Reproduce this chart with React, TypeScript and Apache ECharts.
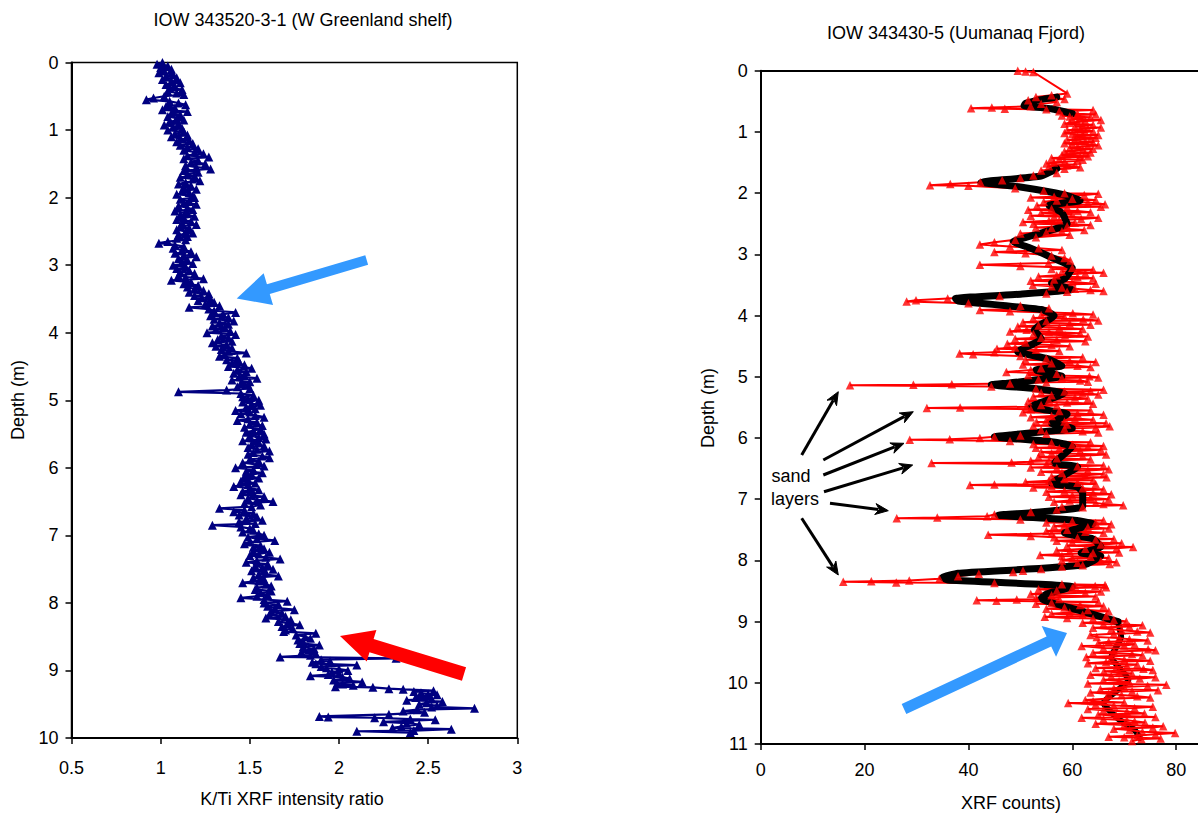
import React, { useEffect, useRef } from "react";
import * as echarts from "echarts";

// ---- Left core: IOW 343520-3-1 (W Greenland shelf) ---- [depth m, K/Ti ratio]
const leftCore: [number, number][] = [
  [0.000,1.01],[0.025,0.98],[0.050,1.04],[0.075,1.00],[0.100,1.06],[0.125,1.02],[0.150,0.99],[0.175,1.07],
  [0.200,1.03],[0.225,1.09],[0.250,1.01],[0.275,1.06],[0.300,1.11],[0.325,1.03],[0.350,1.08],[0.375,1.05],
  [0.400,1.12],[0.425,1.04],[0.450,1.09],[0.475,1.13],[0.500,1.02],[0.525,0.96],[0.550,0.92],[0.575,1.05],
  [0.600,1.10],[0.625,1.14],[0.650,1.03],[0.675,1.08],[0.700,1.01],[0.725,1.15],[0.750,1.06],[0.775,1.11],
  [0.800,1.04],[0.825,1.09],[0.850,1.13],[0.875,1.05],[0.900,1.10],[0.925,1.02],[0.950,1.07],[0.975,1.12],
  [1.000,1.04],[1.025,1.13],[1.050,1.08],[1.075,1.15],[1.100,1.06],[1.125,1.11],[1.150,1.16],[1.175,1.09],
  [1.200,1.18],[1.225,1.11],[1.250,1.15],[1.275,1.21],[1.300,1.13],[1.325,1.19],[1.350,1.24],[1.375,1.15],
  [1.400,1.27],[1.425,1.13],[1.450,1.21],[1.475,1.17],[1.500,1.25],[1.525,1.14],[1.550,1.20],[1.575,1.28],
  [1.600,1.13],[1.625,1.21],[1.650,1.15],[1.675,1.19],[1.700,1.11],[1.725,1.18],[1.750,1.22],[1.775,1.14],
  [1.800,1.10],[1.825,1.17],[1.850,1.13],[1.875,1.20],[1.900,1.12],[1.925,1.16],[1.950,1.09],[1.975,1.18],
  [2.000,1.19],[2.025,1.11],[2.050,1.16],[2.075,1.13],[2.100,1.20],[2.125,1.10],[2.150,1.15],[2.175,1.18],
  [2.200,1.08],[2.225,1.15],[2.250,1.11],[2.275,1.19],[2.300,1.13],[2.325,1.09],[2.350,1.17],[2.375,1.12],
  [2.400,1.20],[2.425,1.11],[2.450,1.16],[2.475,1.09],[2.500,1.14],[2.525,1.18],[2.550,1.10],[2.575,1.15],
  [2.600,1.09],[2.625,1.14],[2.650,1.04],[2.675,0.99],[2.700,1.08],[2.725,1.13],[2.750,1.07],[2.775,1.12],
  [2.800,1.17],[2.825,1.08],[2.850,1.13],[2.875,1.20],[2.900,1.10],[2.925,1.15],[2.950,1.12],[2.975,1.18],
  [3.000,1.07],[3.025,1.14],[3.050,1.09],[3.075,1.16],[3.100,1.11],[3.125,1.19],[3.150,1.10],[3.175,1.14],
  [3.200,1.24],[3.225,1.06],[3.250,1.17],[3.275,1.13],[3.300,1.21],[3.325,1.15],[3.350,1.19],[3.375,1.24],
  [3.400,1.16],[3.425,1.27],[3.450,1.19],[3.475,1.23],[3.500,1.28],[3.525,1.21],[3.550,1.30],[3.575,1.25],
  [3.600,1.33],[3.625,1.16],[3.650,1.27],[3.675,1.30],[3.700,1.42],[3.725,1.35],[3.750,1.28],[3.775,1.38],
  [3.800,1.30],[3.825,1.41],[3.850,1.33],[3.875,1.38],[3.900,1.29],[3.925,1.36],[3.950,1.31],[3.975,1.39],
  [4.000,1.26],[4.025,1.42],[4.050,1.34],[4.075,1.38],[4.100,1.32],[4.125,1.40],[4.150,1.29],[4.175,1.37],
  [4.200,1.31],[4.225,1.40],[4.250,1.34],[4.275,1.38],[4.300,1.48],[4.325,1.36],[4.350,1.33],[4.375,1.43],
  [4.400,1.37],[4.425,1.44],[4.450,1.40],[4.475,1.47],[4.500,1.38],[4.525,1.51],[4.550,1.43],[4.575,1.48],
  [4.600,1.41],[4.625,1.47],[4.650,1.44],[4.675,1.54],[4.700,1.40],[4.725,1.50],[4.750,1.45],[4.775,1.49],
  [4.800,1.43],[4.825,1.50],[4.850,1.37],[4.875,1.10],[4.900,1.45],[4.925,1.52],[4.950,1.46],[4.975,1.49],
  [5.000,1.55],[5.025,1.46],[5.050,1.51],[5.075,1.56],[5.100,1.48],[5.125,1.53],[5.150,1.42],[5.175,1.50],
  [5.200,1.45],[5.225,1.53],[5.250,1.58],[5.275,1.49],[5.300,1.43],[5.325,1.54],[5.350,1.50],[5.375,1.57],
  [5.400,1.47],[5.425,1.56],[5.450,1.52],[5.475,1.48],[5.500,1.58],[5.525,1.50],[5.550,1.55],[5.575,1.59],
  [5.600,1.46],[5.625,1.55],[5.650,1.51],[5.675,1.58],[5.700,1.49],[5.725,1.54],[5.750,1.61],[5.775,1.52],
  [5.800,1.49],[5.825,1.57],[5.850,1.61],[5.875,1.50],[5.900,1.55],[5.925,1.46],[5.950,1.54],[5.975,1.58],
  [6.000,1.42],[6.025,1.52],[6.050,1.48],[6.075,1.57],[6.100,1.51],[6.125,1.47],[6.150,1.55],[6.175,1.49],
  [6.200,1.45],[6.225,1.53],[6.250,1.49],[6.275,1.41],[6.300,1.50],[6.325,1.55],[6.350,1.46],[6.375,1.52],
  [6.400,1.45],[6.425,1.58],[6.450,1.49],[6.475,1.54],[6.500,1.63],[6.525,1.47],[6.550,1.56],[6.575,1.51],
  [6.600,1.33],[6.625,1.47],[6.650,1.41],[6.675,1.52],[6.700,1.44],[6.725,1.54],[6.750,1.48],[6.775,1.57],
  [6.800,1.44],[6.825,1.53],[6.850,1.29],[6.875,1.45],[6.900,1.50],[6.925,1.52],[6.950,1.46],[6.975,1.55],
  [7.000,1.58],[7.025,1.49],[7.050,1.54],[7.075,1.64],[7.100,1.50],[7.125,1.47],[7.150,1.56],[7.175,1.52],
  [7.200,1.58],[7.225,1.52],[7.250,1.61],[7.275,1.55],[7.300,1.50],[7.325,1.59],[7.350,1.67],[7.375,1.54],
  [7.400,1.48],[7.425,1.60],[7.450,1.53],[7.475,1.57],[7.500,1.63],[7.525,1.51],[7.550,1.59],[7.575,1.55],
  [7.600,1.66],[7.625,1.52],[7.650,1.58],[7.675,1.55],[7.700,1.46],[7.725,1.59],[7.750,1.62],[7.775,1.54],
  [7.800,1.53],[7.825,1.62],[7.850,1.56],[7.875,1.60],[7.900,1.54],[7.925,1.45],[7.950,1.58],[7.975,1.71],
  [8.000,1.58],[8.025,1.66],[8.050,1.60],[8.075,1.64],[8.100,1.75],[8.125,1.62],[8.150,1.68],[8.175,1.61],
  [8.200,1.70],[8.225,1.59],[8.250,1.73],[8.275,1.66],[8.300,1.71],[8.325,1.78],[8.350,1.68],[8.375,1.74],
  [8.400,1.70],[8.425,1.69],[8.450,1.87],[8.475,1.76],[8.500,1.81],[8.525,1.84],[8.550,1.77],[8.575,1.80],
  [8.600,1.78],[8.625,1.89],[8.650,1.80],[8.675,1.86],[8.700,1.83],[8.725,1.79],[8.750,1.87],[8.775,1.84],
  [8.80,1.67],[8.82,2.32],[8.84,1.90],[8.86,1.95],[8.88,1.85],[8.90,1.87],[8.92,2.10],[8.94,1.90],[8.96,1.93],[8.98,2.00],
  [9.00,2.05],[9.02,1.96],[9.04,2.00],[9.06,1.94],[9.08,1.84],[9.10,2.02],[9.12,2.06],[9.14,1.97],[9.17,2.13],[9.19,1.99],
  [9.20,2.02],[9.22,2.08],[9.24,1.98],[9.25,2.19],[9.27,2.28],[9.28,2.36],[9.30,2.53],[9.31,2.42],[9.33,2.46],[9.35,2.50],
  [9.36,2.55],[9.38,2.47],[9.40,2.43],[9.42,2.52],[9.44,2.38],[9.46,2.58],[9.48,2.49],[9.50,2.45],[9.52,2.55],[9.54,2.52],
  [9.56,2.76],[9.58,2.44],[9.60,2.36],[9.62,2.48],[9.65,2.28],[9.68,1.89],[9.69,1.94],[9.70,2.20],[9.72,2.40],[9.73,2.54],
  [9.76,2.25],[9.78,2.38],[9.80,2.45],[9.83,2.35],[9.85,2.30],[9.87,2.63],[9.89,2.42],[9.90,2.10],[9.92,2.40],
];

// ---- Right core: IOW 343430-5 (Uumanaq Fjord) ---- [depth m, XRF counts]
const rightCore: [number, number][] = [
  [0.00,49.5],[0.01,51.0],[0.02,52.5],[0.37,59.0],[0.40,56.0],[0.43,53.0],[0.46,58.5],[0.48,51.5],[0.51,57.0],[0.54,54.0],
  [0.58,52.0],[0.60,44.5],[0.61,40.5],[0.62,47.0],[0.63,55.0],[0.64,64.0],[0.66,57.5],[0.70,61.0],[0.73,58.0],[0.76,63.5],
  [0.79,60.0],[0.82,62.5],[0.85,59.5],[0.88,64.0],[0.91,60.5],[0.94,63.0],[0.97,59.0],[1.00,62.5],[1.03,60.0],[1.05,65.0],
  [1.08,61.0],[1.11,63.5],[1.14,60.5],[1.17,64.0],[1.20,60.0],[1.23,63.0],[1.26,59.5],[1.29,62.0],[1.32,58.5],[1.35,62.5],
  [1.38,58.0],[1.41,61.5],[1.44,57.5],[1.47,61.0],[1.50,56.5],[1.53,60.5],[1.56,55.5],[1.60,58.5],[1.63,54.0],[1.67,57.0],
  [1.71,52.5],[1.75,50.0],[1.79,46.5],[1.82,42.3],[1.85,36.5],[1.87,32.6],[1.88,40.0],[1.92,49.0],[1.96,54.5],[2.00,58.5],
  [2.03,62.3],[2.06,56.5],[2.09,60.0],[2.12,57.0],[2.15,63.0],[2.18,66.3],[2.20,53.2],[2.23,59.0],[2.26,56.0],[2.29,61.0],
  [2.32,54.0],[2.35,60.0],[2.38,56.5],[2.42,61.7],[2.45,55.5],[2.48,60.5],[2.50,52.5],[2.54,59.0],[2.57,56.0],[2.60,62.3],
  [2.64,55.0],[2.68,59.5],[2.72,53.0],[2.76,49.0],[2.80,45.0],[2.84,42.2],[2.87,48.0],[2.90,53.5],[2.93,58.0],[2.96,45.0],
  [2.98,51.0],[3.02,56.0],[3.06,58.5],[3.10,59.6],[3.14,55.4],[3.17,42.2],[3.19,50.0],[3.22,60.0],[3.25,64.0],[3.28,58.0],
  [3.31,62.5],[3.34,57.0],[3.37,61.0],[3.41,56.5],[3.45,60.0],[3.50,52.4],[3.54,58.0],[3.58,63.5],[3.61,59.0],[3.64,55.0],
  [3.68,46.0],[3.72,36.0],[3.75,29.9],[3.77,28.1],[3.80,40.0],[3.84,50.0],[3.88,55.5],[3.91,42.2],[3.93,48.0],[3.96,60.1],
  [3.99,54.0],[4.02,58.5],[4.06,62.1],[4.09,55.0],[4.13,59.5],[4.16,53.5],[4.20,57.5],[4.23,51.2],[4.27,55.5],[4.30,52.5],
  [4.32,58.6],[4.36,54.0],[4.40,57.0],[4.44,51.0],[4.48,56.0],[4.52,49.0],[4.56,53.0],[4.60,45.0],[4.62,38.3],[4.63,40.9],
  [4.66,50.0],[4.70,55.0],[4.74,59.5],[4.78,56.0],[4.82,61.0],[4.86,54.0],[4.89,52.0],[4.92,47.3],[4.95,57.0],[4.99,63.3],
  [5.02,58.0],[5.06,61.5],[5.09,55.0],[5.11,48.0],[5.12,36.8],[5.13,29.4],[5.14,17.2],[5.16,44.4],[5.19,53.0],[5.21,66.0],
  [5.24,58.5],[5.27,62.0],[5.30,56.0],[5.34,60.5],[5.38,55.5],[5.42,59.0],[5.46,54.0],[5.49,51.2],[5.50,38.4],[5.51,32.0],
  [5.53,52.0],[5.56,57.5],[5.60,61.0],[5.64,56.0],[5.68,60.5],[5.71,55.0],[5.74,53.1],[5.78,59.0],[5.81,67.2],[5.85,58.5],
  [5.89,62.0],[5.93,55.0],[5.96,50.0],[5.98,45.0],[6.00,42.2],[6.02,36.4],[6.03,28.7],[6.05,48.0],[6.08,56.0],[6.11,60.0],
  [6.14,63.0],[6.17,57.5],[6.21,61.5],[6.25,56.0],[6.29,62.0],[6.33,57.0],[6.37,52.0],[6.40,48.3],[6.41,32.9],[6.43,55.0],
  [6.46,61.0],[6.49,57.0],[6.53,63.0],[6.57,58.0],[6.61,62.5],[6.64,66.6],[6.67,58.5],[6.70,55.5],[6.73,61.0],[6.76,45.0],
  [6.77,40.3],[6.79,56.0],[6.82,62.0],[6.86,58.5],[6.90,64.0],[6.94,60.0],[6.98,63.5],[7.02,59.5],[7.06,64.5],[7.10,69.8],
  [7.13,62.0],[7.17,57.0],[7.21,52.0],[7.25,45.0],[7.28,43.6],[7.30,34.0],[7.31,26.2],[7.33,50.0],[7.36,60.0],[7.39,64.5],
  [7.42,58.5],[7.46,63.0],[7.50,59.0],[7.53,62.5],[7.56,56.0],[7.58,43.8],[7.60,52.0],[7.63,61.0],[7.66,64.5],[7.70,60.0],
  [7.74,65.5],[7.78,71.7],[7.81,62.5],[7.85,59.5],[7.88,64.0],[7.91,53.8],[7.94,63.5],[7.97,60.0],[8.01,65.5],[8.04,61.0],
  [8.06,67.2],[8.10,58.0],[8.14,54.0],[8.17,50.5],[8.19,48.6],[8.22,42.0],[8.26,38.0],[8.30,34.4],[8.33,28.6],[8.34,21.3],
  [8.35,15.9],[8.36,26.1],[8.37,45.0],[8.39,58.0],[8.40,66.3],[8.42,64.4],[8.45,60.0],[8.49,57.0],[8.53,62.5],[8.57,56.0],
  [8.61,53.0],[8.64,49.3],[8.65,41.6],[8.66,45.4],[8.69,56.0],[8.73,61.5],[8.77,58.5],[8.81,63.0],[8.85,59.5],[8.89,62.0],
  [8.92,54.7],[8.95,64.0],[9.00,70.4],[9.04,66.0],[9.08,71.0],[9.12,67.5],[9.16,72.5],[9.20,68.0],[9.25,64.7],[9.29,71.0],
  [9.33,67.0],[9.37,72.0],[9.40,61.8],[9.45,74.6],[9.49,68.0],[9.53,71.5],[9.58,62.7],[9.62,70.0],[9.66,66.5],[9.70,72.5],
  [9.74,68.5],[9.77,73.7],[9.81,66.1],[9.85,71.5],[9.89,67.5],[9.93,73.0],[9.97,69.0],[10.03,78.1],[10.07,70.0],[10.10,65.4],
  [10.14,71.5],[10.18,67.0],[10.22,72.5],[10.26,66.5],[10.30,64.0],[10.33,59.2],[10.37,68.0],[10.41,72.0],[10.45,66.0],[10.50,73.9],
  [10.54,68.5],[10.57,61.8],[10.61,70.5],[10.65,74.0],[10.69,70.0],[10.73,75.5],[10.77,71.0],[10.82,79.8],[10.86,72.5],[10.89,70.0],
  [10.92,73.3],[10.95,71.5],
  // in-between readings
  [0.715,64.5],[0.745,59.5],[0.775,61.5],[0.805,65.5],[0.835,61.0],[0.865,58.5],[0.895,62.0],[0.925,65.5],[0.955,61.5],[0.985,64.0],
  [1.015,58.5],[1.045,62.0],[1.065,60.5],[1.095,64.5],[1.125,59.0],[1.155,62.5],[1.185,58.5],[1.215,65.0],[1.245,61.0],[1.275,64.0],
  [1.305,60.0],[1.335,63.5],[1.365,59.0],[1.395,63.0],[1.425,56.0],[1.455,62.0],[1.485,58.5],[1.515,55.0],[1.545,59.0],[1.575,61.5],
  [2.01,65.0],[2.07,52.0],[2.11,64.5],[2.14,54.5],[2.22,65.5],[2.27,51.5],[2.31,63.5],[2.37,52.0],[2.40,65.0],[2.44,57.5],
  [2.47,50.5],[2.52,63.5],[2.56,53.0],[2.62,58.0],[2.66,50.0],
  [3.24,56.0],[3.30,66.0],[3.36,53.5],[3.39,64.0],[3.43,52.0],[3.48,64.5],[3.52,56.0],[3.56,60.5],[3.60,66.0],
  [3.98,64.0],[4.04,52.5],[4.08,65.0],[4.11,50.5],[4.15,63.5],[4.18,49.5],[4.22,62.0],[4.26,48.0],[4.29,61.5],[4.34,63.0],
  [4.38,49.0],[4.42,62.5],[4.46,47.5],[4.50,59.5],[4.54,45.5],[4.58,57.5],
  [4.68,62.0],[4.72,51.0],[4.76,64.5],[4.80,50.5],[4.84,63.5],[4.97,51.5],[5.01,65.0],[5.04,53.5],[5.08,63.0],
  [5.23,63.5],[5.26,54.0],[5.29,65.0],[5.32,52.5],[5.36,63.0],[5.40,51.5],[5.44,64.0],[5.47,57.0],
  [5.55,63.5],[5.58,50.5],[5.62,66.0],[5.66,52.0],[5.70,64.0],[5.73,58.5],[5.76,66.5],[5.80,52.5],[5.83,64.5],[5.87,54.0],[5.91,65.0],
  [6.07,63.5],[6.10,52.5],[6.13,66.0],[6.16,53.0],[6.19,65.5],[6.23,54.0],[6.27,66.5],[6.31,53.5],[6.35,63.5],[6.38,55.5],
  [6.45,66.0],[6.48,52.0],[6.51,67.0],[6.55,54.0],[6.59,66.0],[6.63,56.0],[6.69,64.0],[6.72,51.0],[6.75,64.5],[6.81,52.5],
  [6.84,66.0],[6.88,55.0],[6.92,67.5],[6.96,55.5],[7.00,67.0],[7.04,56.5],[7.08,66.0],[7.12,58.0],
  [7.35,66.0],[7.38,55.0],[7.41,67.5],[7.44,56.5],[7.48,67.0],[7.52,55.0],[7.55,66.0],[7.62,56.5],[7.65,68.0],[7.68,57.0],
  [7.72,69.5],[7.76,59.0],[7.80,68.5],[7.84,57.0],[7.87,69.0],[7.93,58.0],[7.96,67.0],[8.00,58.0],[8.03,68.5],[8.08,62.0],
  [8.41,60.5],[8.44,66.5],[8.47,53.5],[8.51,65.5],[8.55,52.0],[8.59,64.5],[8.63,57.5],[8.68,65.0],[8.71,53.0],[8.75,66.0],
  [8.79,55.0],[8.83,67.0],[8.87,56.0],[8.91,66.5],[8.94,59.0],[8.97,68.0],
  [9.02,62.0],[9.06,73.5],[9.10,64.0],[9.14,69.5],[9.18,75.0],[9.22,63.5],[9.27,69.0],[9.31,74.5],[9.35,65.0],[9.39,70.0],
  [9.43,66.0],[9.47,76.0],[9.51,64.0],[9.55,73.5],[9.60,67.5],[9.64,75.0],[9.68,63.0],[9.72,70.5],[9.76,64.5],[9.79,75.5],
  [9.83,69.0],[9.87,63.5],[9.91,76.0],[9.95,66.0],[9.99,71.0],[10.01,63.0],[10.05,74.5],[10.09,68.0],[10.12,76.5],[10.16,63.5],
  [10.20,69.5],[10.24,75.0],[10.28,62.5],[10.32,70.0],[10.35,64.5],[10.39,75.5],[10.43,63.0],[10.47,70.5],[10.52,65.0],[10.56,76.0],
  [10.59,66.0],[10.63,72.0],[10.67,64.5],[10.71,77.5],[10.75,68.0],[10.80,73.5],[10.84,76.0],[10.88,67.0],[10.91,77.0],
];

// ---- Right core running mean (black curve) ---- [depth m, XRF counts]
const rightMean: [number, number][] = [
  [0.43,57.0],[0.47,54.0],[0.53,51.0],[0.57,50.7],[0.62,56.0],[0.70,60.0],[1.00,61.5],[1.30,60.5],[1.60,57.0],[1.72,54.0],
  [1.80,44.0],[1.82,42.4],[1.90,50.0],[2.03,58.5],[2.12,61.5],[2.20,55.5],[2.32,58.0],[2.50,59.0],[2.70,52.0],[2.79,48.6],
  [2.90,52.0],[3.05,56.0],[3.22,60.0],[3.40,58.5],[3.47,56.0],[3.57,60.0],[3.65,50.0],[3.72,37.5],[3.76,38.0],[3.90,54.0],
  [4.00,56.5],[4.23,52.7],[4.38,54.0],[4.59,49.5],[4.70,55.0],[4.82,58.0],[4.89,53.0],[4.99,58.0],[5.10,48.0],[5.13,44.4],
  [5.19,52.7],[5.27,58.4],[5.49,52.0],[5.61,59.0],[5.76,56.0],[5.84,60.0],[5.95,48.0],[5.98,45.0],[6.06,56.0],[6.14,60.0],
  [6.41,56.5],[6.47,61.0],[6.74,56.0],[6.80,61.0],[6.90,62.0],[7.12,62.0],[7.22,52.0],[7.26,45.7],[7.34,60.0],[7.40,64.0],
  [7.55,58.5],[7.65,64.0],[7.78,65.5],[7.88,61.7],[7.93,65.5],[8.07,62.3],[8.15,50.0],[8.21,38.0],[8.28,35.0],[8.32,36.0],
  [8.43,60.0],[8.55,55.0],[8.62,54.0],[8.81,61.0],[9.00,68.8],[9.25,69.4],[9.58,67.5],[9.95,70.8],[10.33,66.0],[10.60,69.0],
  [10.77,72.0],[10.90,73.0],
];

const leftTicksY = { min: 0, max: 10, interval: 1 };
const leftTicksX = { min: 0.5, max: 3, interval: 0.5 };
const rightTicksY = { min: 0, max: 11, interval: 1 };
const rightTicksX = { min: 0, max: 84.2, interval: 20 };

const FONT = "'Liberation Sans', Arial, sans-serif";

function blockArrow(x1: number, y1: number, x2: number, y2: number, sw: number, hw: number, hl: number) {
  const dx = x2 - x1, dy = y2 - y1;
  const L = Math.hypot(dx, dy);
  const ux = dx / L, uy = dy / L, nx = -uy, ny = ux;
  const bx = x2 - ux * hl, by = y2 - uy * hl;
  return [
    [x1 + nx * sw / 2, y1 + ny * sw / 2],
    [bx + nx * sw / 2, by + ny * sw / 2],
    [bx + nx * hw / 2, by + ny * hw / 2],
    [x2, y2],
    [bx - nx * hw / 2, by - ny * hw / 2],
    [bx - nx * sw / 2, by - ny * sw / 2],
    [x1 - nx * sw / 2, y1 - ny * sw / 2],
  ];
}

function thinArrow(x1: number, y1: number, x2: number, y2: number) {
  const dx = x2 - x1, dy = y2 - y1;
  const L = Math.hypot(dx, dy);
  const ux = dx / L, uy = dy / L, nx = -uy, ny = ux;
  const hl = 13, hw = 11;
  const bx = x2 - ux * hl, by = y2 - uy * hl;
  return [
    { type: "line", shape: { x1, y1, x2: bx + ux * 3, y2: by + uy * 3 }, style: { stroke: "#000", lineWidth: 3 } },
    {
      type: "polygon",
      shape: { points: [[x2, y2], [bx + nx * hw / 2, by + ny * hw / 2], [bx + ux * 4, by + uy * 4], [bx - nx * hw / 2, by - ny * hw / 2]] },
      style: { fill: "#000", stroke: "#000", lineWidth: 1 },
    },
  ];
}

function axisCommon() {
  return {
    axisLine: { show: true, onZero: false, lineStyle: { color: "#000", width: 2 } },
    axisTick: { show: true, inside: false, length: 6, lineStyle: { color: "#000", width: 1.5 } },
    splitLine: { show: false },
  };
}

const rightSorted = [...rightCore].sort((a, b) => a[0] - b[0]).map(([d, v]) => [v, d]);
const meanSeg = (lo: number, hi: number) => rightMean.filter(([d]) => d >= lo && d <= hi).map(([d, v]) => [v, d]);

export default function App() {
  const ref = useRef<HTMLDivElement>(null);
  useEffect(() => {
    if (!ref.current) return;
    const chart = echarts.init(ref.current, null, { renderer: "svg" });
    const labelStyle = { color: "#000", fontSize: 18, fontFamily: FONT };
    const textStyle = (text: string, extra: any = {}) => ({
      text, fill: "#000", font: `18px ${FONT}`, align: "center", verticalAlign: "middle", ...extra,
    });
    const blackLine = (data: any[], z: number, width: number) => ({
      type: "line", xAxisIndex: 1, yAxisIndex: 1, clip: false, z,
      data, showSymbol: false, symbol: "none", smooth: 0.15,
      lineStyle: { color: "#000", width, cap: "round", join: "round" },
    });
    chart.setOption({
      animation: false,
      backgroundColor: "#fff",
      grid: [
        { left: 71.5, top: 62.5, width: 445.8, height: 675.5, show: true, borderColor: "#000", borderWidth: 1.5, backgroundColor: "transparent" },
        { left: 760.7, top: 70.8, right: 0, height: 673.2, show: false },
      ],
      xAxis: [
        { type: "value", gridIndex: 0, position: "bottom", ...leftTicksX, ...axisCommon(), axisLabel: { ...labelStyle, margin: 21 } },
        { type: "value", gridIndex: 1, position: "bottom", ...rightTicksX, ...axisCommon(), axisLabel: { ...labelStyle, margin: 17, showMaxLabel: false } },
        {
          type: "value", gridIndex: 1, position: "top", ...rightTicksX,
          axisLine: { show: true, onZero: false, lineStyle: { color: "#000", width: 1.8 } },
          axisTick: { show: false }, axisLabel: { show: false }, splitLine: { show: false },
        },
      ],
      yAxis: [
        { type: "value", gridIndex: 0, inverse: true, position: "left", ...leftTicksY, ...axisCommon(), axisLabel: { ...labelStyle, margin: 13 } },
        { type: "value", gridIndex: 1, inverse: true, position: "left", ...rightTicksY, ...axisCommon(), axisLabel: { ...labelStyle, margin: 13 } },
      ],
      series: [
        {
          type: "line", xAxisIndex: 0, yAxisIndex: 0, clip: false, z: 3,
          data: leftCore.map(([d, v]) => [v, d]),
          symbol: "triangle", symbolSize: 9, showSymbol: true,
          lineStyle: { color: "#000080", width: 2.2 },
          itemStyle: { color: "#000080" },
        },
        blackLine(meanSeg(9.0, 11), 1, 6),
        {
          type: "line", xAxisIndex: 1, yAxisIndex: 1, clip: false, z: 2,
          data: rightSorted,
          showSymbol: false, symbol: "none",
          lineStyle: { color: "#ff0000", width: 2 },
        },
        blackLine(meanSeg(0.4, 0.7), 3, 7),
        blackLine(meanSeg(1.6, 9.0), 3, 7),
        {
          type: "scatter", xAxisIndex: 1, yAxisIndex: 1, clip: false, z: 4,
          data: rightSorted,
          symbol: "triangle", symbolSize: 8.5,
          itemStyle: { color: "#ff0000" },
        },
      ],
      graphic: [
        { type: "text", x: 303, y: 20, style: textStyle("IOW 343520-3-1 (W Greenland shelf)") },
        { type: "text", x: 956, y: 33, style: textStyle("IOW 343430-5 (Uumanaq Fjord)") },
        { type: "text", x: 292, y: 799, style: textStyle("K/Ti XRF intensity ratio") },
        { type: "text", x: 1011, y: 803, style: textStyle("XRF counts)") },
        { type: "text", x: 18, y: 400, rotation: Math.PI / 2, style: textStyle("Depth (m)") },
        { type: "text", x: 708, y: 408, rotation: Math.PI / 2, style: textStyle("Depth (m)") },
        { type: "text", x: 791, y: 476, style: textStyle("sand") },
        { type: "text", x: 795, y: 499, style: textStyle("layers") },
        { type: "polygon", shape: { points: blockArrow(366.7, 260, 236.7, 298.5, 10, 33, 33) }, style: { fill: "#3399ff" } },
        { type: "polygon", shape: { points: blockArrow(464, 674, 340, 636, 14, 33, 33) }, style: { fill: "#ff0000" } },
        { type: "polygon", shape: { points: blockArrow(904, 709, 1067, 633, 11, 34, 20) }, style: { fill: "#3399ff" } },
        ...thinArrow(801.7, 455, 838.3, 391.7),
        ...thinArrow(823.3, 460, 913.3, 411.7),
        ...thinArrow(823.3, 475, 904, 443.3),
        ...thinArrow(824, 491.7, 912.7, 465),
        ...thinArrow(830, 503.3, 888.3, 510.7),
        ...thinArrow(801.7, 518.3, 838.3, 575),
      ].map((g: any) => ({ z: 20, ...g })),
    });
    return () => chart.dispose();
  }, []);
  return <div ref={ref} style={{ position: "fixed", left: 0, top: 0, width: 1198, height: 815 }} />;
}
